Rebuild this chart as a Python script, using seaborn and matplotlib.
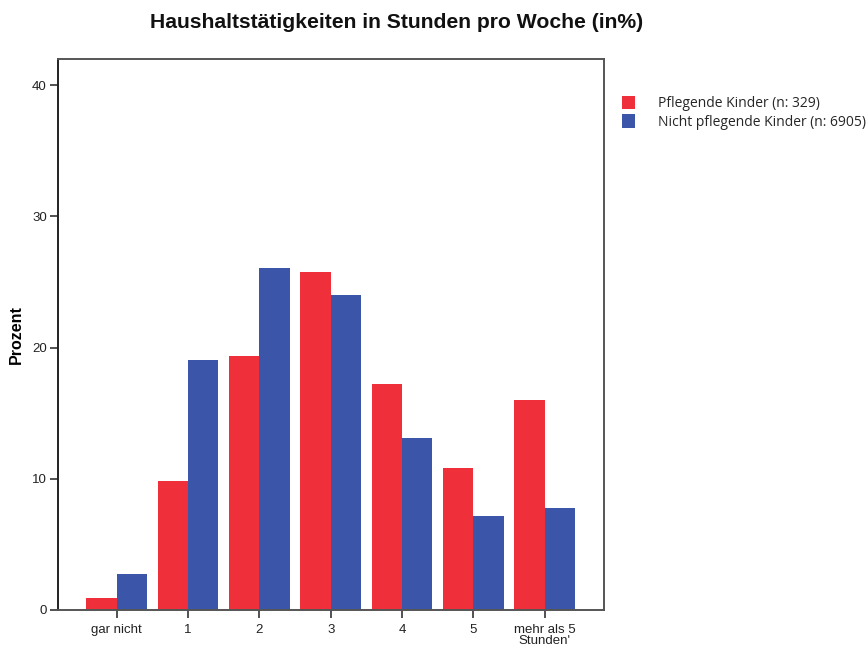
import matplotlib
matplotlib.use("Agg")
import matplotlib.pyplot as plt
import seaborn as sns
import pandas as pd
from matplotlib.patches import Patch

categories = ["gar nicht", "1", "2", "3", "4", "5", "mehr als 5\nStunden'"]
pflegende = [0.9, 9.8, 19.35, 25.8, 17.25, 10.8, 16.0]
nicht_pflegende = [2.75, 19.05, 26.1, 24.0, 13.1, 7.15, 7.8]
series_names = ["Pflegende Kinder (n: 329)", "Nicht pflegende Kinder (n: 6905)"]
y_ticks = [0, 10, 20, 30, 40]

red = "#EF2F3A"
blue = "#3B56A8"

sns.set_theme(style="white")
plt.rcParams["font.family"] = ["Liberation Sans", "DejaVu Sans"]

df = pd.DataFrame({
    "cat": categories * 2,
    "val": pflegende + nicht_pflegende,
    "group": [series_names[0]] * len(categories) + [series_names[1]] * len(categories),
})

fig = plt.figure(figsize=(8.67, 6.46), dpi=100)
ax = fig.add_axes([58 / 867, 36 / 646, (604 - 58) / 867, (610 - 59) / 646])

sns.barplot(data=df, x="cat", y="val", hue="group", order=categories,
            hue_order=series_names, palette=[red, blue], saturation=1,
            width=0.85, linewidth=0, ax=ax, legend=False)

ax.set_xlim(-0.82, 6.83)
ax.set_ylim(0, 42)
ax.set_yticks(y_ticks)
ax.set_yticklabels([str(t) for t in y_ticks])
ax.set_xticks(range(len(categories)))
ax.set_xticklabels(categories, linespacing=0.85)
ax.set_xlabel("")
ax.set_ylabel("Prozent", fontsize=11.5, fontweight="bold", labelpad=6, color="black",
              family=["Liberation Sans", "DejaVu Sans"])
ax.tick_params(axis="both", direction="out", length=6, width=1.2, colors="#333333",
               labelsize=9.5, labelcolor="#222222", bottom=True, left=True, pad=2)
ax.tick_params(axis="x", pad=4)
for lbl in ax.get_xticklabels() + ax.get_yticklabels():
    lbl.set_fontfamily(["Liberation Sans", "DejaVu Sans"])
for s in ax.spines.values():
    s.set_visible(True)
    s.set_color("#555555")
    s.set_linewidth(1.4)
ax.spines["left"].set_color("#222222")

fig.text(397 / 867, 1 - 23 / 646, "Haushaltstätigkeiten in Stunden pro Woche (in%)",
         ha="center", va="center", fontsize=15.2, fontweight="bold", color="#111111",
         family=["Liberation Sans", "DejaVu Sans"])

handles = [Patch(facecolor=red, edgecolor="none"), Patch(facecolor=blue, edgecolor="none")]
fig.legend(handles, series_names, loc="upper left", bbox_to_anchor=(616 / 867, 1 - 90 / 646),
           frameon=False, handlelength=1.0, handleheight=1.1, handletextpad=1.6,
           labelspacing=0.25, borderaxespad=0, prop={"family": ["Open Sans", "DejaVu Sans"], "size": 10})

fig.savefig("out.png", dpi=100)
